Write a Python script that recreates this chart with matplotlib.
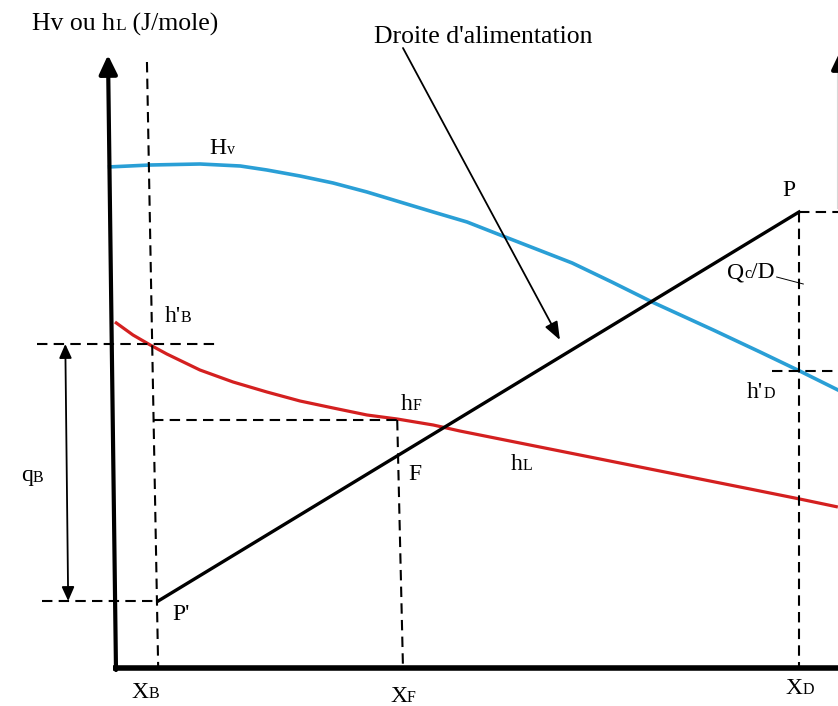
import matplotlib
matplotlib.use("Agg")
import numpy as np
from matplotlib import pyplot as plt
from matplotlib.offsetbox import TextArea, HPacker, AnnotationBbox

plt.rcParams["font.family"] = ["Liberation Serif", "DejaVu Serif"]

# composition (fraction) and enthalpy (arbitrary units)
hv_x = [-0.010, 0.049, 0.118, 0.174, 0.211, 0.257, 0.303, 0.350, 0.396, 0.442,
        0.489, 0.535, 0.585, 0.635, 0.690, 0.746, 0.831, 0.896, 0.951, 1.007]
hv_y = [5.01, 5.03, 5.04, 5.02, 4.98, 4.92, 4.85, 4.76, 4.66, 4.56,
        4.46, 4.33, 4.19, 4.05, 3.86, 3.66, 3.38, 3.16, 2.97, 2.77]

hl_x = [0.000, 0.025, 0.049, 0.072, 0.118, 0.164, 0.211, 0.257, 0.303, 0.350,
        0.392, 0.442, 0.479, 0.604, 0.743, 0.882, 0.951, 1.004]
hl_y = [3.46, 3.33, 3.23, 3.14, 2.98, 2.86, 2.76, 2.67, 2.60, 2.53,
        2.49, 2.43, 2.37, 2.19, 1.99, 1.79, 1.69, 1.61]

x_B, x_F, x_D = 0.06, 0.40, 0.95
h_B_prime = 3.24     # h'B
h_F = 2.48
h_D_prime = 2.97     # h'D
y_P_prime = 0.67     # P'
y_P = 4.56           # P

BLUE = "#2a9fd6"
RED = "#d42020"

fig = plt.figure(figsize=(8.38, 7.06), dpi=100)
ax = fig.add_axes([0, 0, 1, 1])
ax.set_xlim(-0.1597, 1.0042)
ax.set_ylim(-0.38, 6.68)
ax.axis("off")

# axes of the diagram
ax.annotate("", xy=(-0.0097, 6.13), xytext=(0.0014, -0.02),
            arrowprops=dict(arrowstyle="-|>,head_length=1.15,head_width=0.55", lw=3, color="black",
                            shrinkA=0, shrinkB=0))
ax.plot([-0.003, 1.02], [0, 0], color="black", lw=4, solid_capstyle="butt")
# second axis, cut off by the right edge
ax.plot([1.0035, 1.0035], [4.6, 6.0], color="#d8d8d8", lw=0.8)
ax.annotate("", xy=(1.008, 6.18), xytext=(1.008, 5.6), annotation_clip=False,
            arrowprops=dict(arrowstyle="-|>,head_length=1.15,head_width=0.55", lw=3, color="black",
                            shrinkA=0, shrinkB=0))

# curves
ax.plot(hv_x, hv_y, color=BLUE, lw=2.6, solid_capstyle="butt", solid_joinstyle="round")
ax.plot(hl_x, hl_y, color=RED, lw=2.3, solid_capstyle="butt", solid_joinstyle="round")

# operating line P' -> P
ax.plot([x_B, x_D], [y_P_prime, y_P], color="black", lw=2.4)

# dashed construction lines
dash = dict(color="black", lw=1.5, dashes=(5, 3))
ax.plot([0.0444, x_B], [6.06, 0], **dash)
ax.plot([-0.108, 0.143], [h_B_prime, h_B_prime], **dash)
ax.plot([0.053, 0.392], [h_F, h_F], **dash)
ax.plot([0.392, x_F], [h_F, 0], **dash)
ax.plot([-0.101, x_B], [y_P_prime, y_P_prime], **dash)
ax.plot([x_D, x_D], [y_P, 0], **dash)
ax.plot([x_D, 1.02], [y_P, y_P], **dash)
ax.plot([0.9125, 1.02], [h_D_prime, h_D_prime], **dash)

# qB double arrow
ax.annotate("", xy=(-0.069, h_B_prime), xytext=(-0.065, y_P_prime),
            arrowprops=dict(arrowstyle="<|-|>,head_length=0.85,head_width=0.38", lw=1.3, color="black",
                            shrinkA=0, shrinkB=0))

# arrow pointing at the feed line
ax.annotate("", xy=(0.618, 3.28), xytext=(0.400, 6.20),
            arrowprops=dict(arrowstyle="-|>,head_length=1.1,head_width=0.42", lw=1.3, color="black",
                            shrinkA=0, shrinkB=0))

# Qc/D leader
ax.plot([0.919, 0.956], [3.91, 3.84], color="black", lw=0.7)


def label(parts, x, y, size=17, align=(0.5, 0.5)):
    # parts: list of (text, small?)
    boxes = []
    for txt, small in parts:
        fs = size * 0.68 if small else size
        boxes.append(TextArea(txt, textprops=dict(fontsize=fs, color="black")))
    pack = HPacker(children=boxes, align="baseline", pad=0, sep=0)
    ab = AnnotationBbox(pack, (x, y), xycoords="data", frameon=False,
                        box_alignment=align, pad=0)
    ax.add_artist(ab)


label([("Hv ou h", False), ("L", True), (" (J/mole)", False)], -0.115, 6.44, size=18.5, align=(0, 0.5))
label([("Droite d'alimentation", False)], 0.511, 6.31, size=18.5)
label([("H", False), ("v", True)], 0.149, 5.20)
label([("P", False)], 0.936, 4.78)
label([("Q", False), ("c", True), ("/D", False)], 0.883, 3.95)
label([("h'", False), ("B", True)], 0.0875, 3.52)
label([("h'", False), ("D", True)], 0.897, 2.75)
label([("h", False), ("F", True)], 0.411, 2.64)
label([("F", False)], 0.417, 1.94)
label([("h", False), ("L", True)], 0.565, 2.03)
label([("q", False), ("B", True)], -0.115, 1.92)
label([("P'", False)], 0.092, 0.53)
label([("X", False), ("B", True)], 0.042, -0.24)
label([("X", False), ("F", True)], 0.400, -0.29)
label([("X", False), ("D", True)], 0.951, -0.20)

fig.savefig("out.png", dpi=100)
